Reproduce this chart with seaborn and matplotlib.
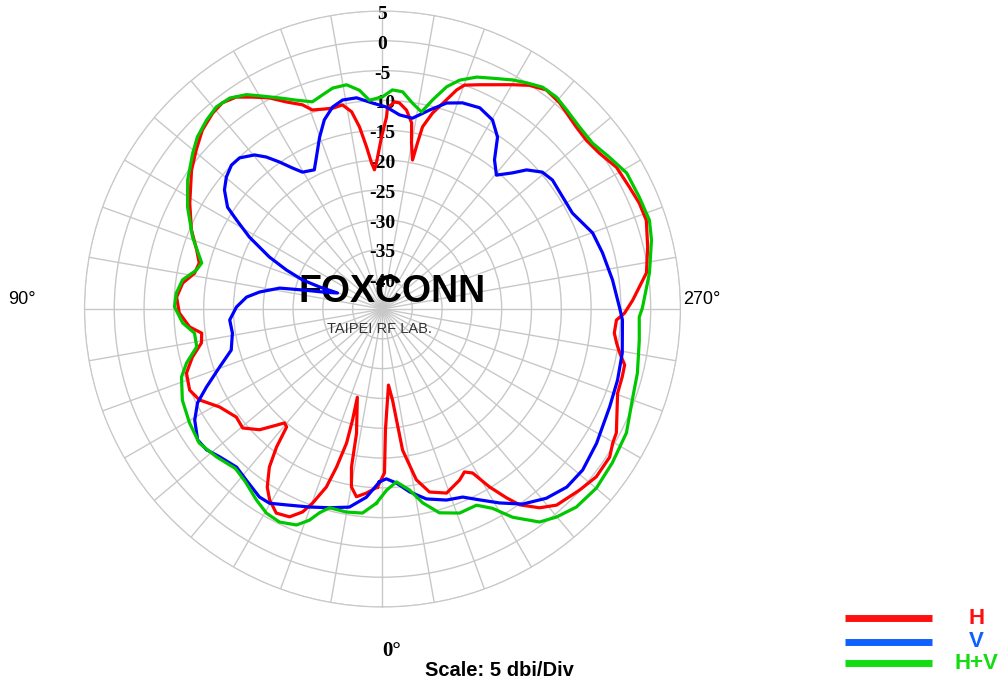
import numpy as np
import matplotlib
matplotlib.use('Agg')
import matplotlib.pyplot as plt
import seaborn as sns
from matplotlib.lines import Line2D

# 안테나 방사 패턴 (각도[deg], 이득[dBi])
h_deg = [1.6, 5.0, 7.9, 9.9, 11.1, 11.8, 15.9, 15.1, 15.0, 16.2, 17.5, 19.8, 21.5, 24.1, 27.5,
         30.6, 32.9, 35.6, 37.5, 39.1, 40.7, 42.4, 45.5, 49.6, 53.5, 59.0, 63.6, 67.2, 71.9,
         75.8, 79.4, 82.4, 84.7, 88.9, 93.3, 97.4, 100.8, 104.1, 107.6, 112.5, 118.8, 126.0,
         130.5, 134.8, 139.1, 142.2, 145.4, 148.5, 151.8, 155.1, 158.6, 160.6, 166.0, 168.9,
         171.1, 172.8, 174.4, 175.7, 176.7, 177.6, 179.7, 181.2, 181.4, 183.3, 184.7, 186.9,
         188.9, 189.9, 191.4, 191.9, 192.4, 194.3, 197.0, 198.7, 200.1, 203.4, 210.1, 213.3,
         216.8, 220.7, 226.8, 230.4, 234.3, 238.8, 243.7, 247.6, 251.4, 256.8, 262.2, 268.0,
         271.0, 272.7, 275.9, 278.3, 280.3, 283.0, 285.8, 289.7, 297.9, 300.2, 303.1, 308.1,
         312.6, 318.4, 321.7, 325.0, 326.7, 329.0, 331.2, 333.3, 335.8, 340.8, 345.6, 348.8,
         351.9, 353.7, 355.5, 358.6, 359.3]
h_db = [-15.1, -14.0, -13.2, -14.7, -18.0, -23.7, -29.6, -25.7, -21.7, -17.4, -13.7, -10.4, -8.4,
        -6.8, -6.4, -7.8, -9.4, -12.4, -15.8, -19.5, -19.8, -18.6, -16.1, -14.2, -14.5, -13.1,
        -10.7, -9.9, -10.4, -12.1, -14.1, -14.4, -12.5, -10.9, -10.4, -11.2, -12.9, -13.3, -12.3,
        -10.3, -8.1, -5.4, -3.9, -2.4, -1.5, -1.2, -1.8, -3.3, -4.8, -6.7, -8.2, -9.6, -10.3,
        -10.1, -11.5, -14.2, -17.7, -20.4, -21.6, -20.5, -16.1, -12.8, -11.3, -10.2, -10.3,
        -11.4, -13.4, -16.7, -19.5, -16.5, -13.7, -11.1, -8.3, -6.2, -5.0, -4.0, -1.5, -0.1,
        0.9, 0.6, -0.4, -0.6, -0.2, 0.9, 1.2, 1.6, 1.7, 0.7, -0.3, -3.0, -4.4, -5.7, -5.9,
        -5.3, -4.6, -3.3, -3.2, -3.1, -0.6, -0.3, 0.5, 0.6, -0.1, -1.0, -2.5, -4.9, -7.1,
        -10.2, -13.6, -14.4, -13.5, -12.3, -13.3, -15.8, -21.1, -29.6, -32.2, -24.7, -17.5]

v_deg = [1.0, 4.9, 9.5, 14.9, 20.2, 26.1, 30.2, 33.2, 38.5, 42.7, 47.8, 51.3, 54.7, 59.4, 63.1,
         66.1, 70.4, 74.8, 80.9, 85.9, 90.8, 95.0, 97.9, 101.5, 103.4, 105.8, 109.6, 109.3,
         110.0, 112.1, 114.7, 118.4, 121.4, 123.3, 127.0, 130.2, 133.6, 136.6, 140.3, 142.6,
         145.0, 147.4, 149.7, 153.9, 156.5, 159.9, 162.9, 166.1, 169.2, 173.0, 177.2, 181.1,
         185.0, 188.9, 193.3, 197.3, 201.2, 205.8, 210.2, 213.8, 216.9, 220.4, 223.7, 226.0,
         229.4, 232.8, 238.1, 243.2, 250.1, 255.7, 262.8, 269.8, 272.6, 280.4, 286.8, 293.3,
         302.1, 308.8, 314.0, 319.1, 324.3, 328.9, 333.1, 336.9, 341.5, 347.0, 351.6, 355.4,
         358.7]
v_db = [-16.0, -13.3, -11.3, -10.5, -9.6, -8.4, -7.3, -7.3, -8.3, -8.9, -8.1, -7.2, -7.0, -8.4,
        -10.2, -12.7, -16.0, -18.7, -19.5, -19.3, -20.5, -22.1, -24.2, -27.4, -31.2, -34.5,
        -37.0, -33.8, -30.7, -27.6, -24.1, -19.6, -16.3, -13.9, -11.8, -10.7, -10.0, -10.1,
        -11.4, -12.9, -14.9, -16.9, -18.4, -19.0, -17.2, -14.3, -11.8, -10.1, -9.3, -9.3,
        -10.4, -11.1, -12.3, -12.6, -10.7, -8.8, -7.9, -7.5, -8.3, -10.3, -13.7, -15.5, -13.4,
        -11.4, -9.7, -9.2, -9.4, -9.3, -7.5, -6.9, -6.1, -5.2, -4.7, -4.1, -3.8, -3.5, -2.6,
        -1.9, -2.0, -3.0, -4.7, -7.0, -9.1, -10.7, -11.2, -12.3, -14.0, -15.7, -16.5]

hv_deg = [1.8, 5.6, 10.1, 14.9, 17.2, 19.1, 21.7, 25.8, 29.6, 33.4, 38.5, 42.7, 48.3, 53.8, 59.4,
          65.5, 71.3, 74.6, 78.5, 82.7, 86.0, 90.6, 94.4, 98.3, 101.8, 104.3, 110.8, 117.6,
          123.5, 129.4, 132.9, 137.0, 140.6, 144.1, 147.6, 150.6, 154.0, 157.6, 161.3, 164.3,
          167.3, 170.9, 174.0, 176.4, 180.0, 182.6, 185.3, 188.3, 191.2, 193.5, 196.1, 198.6,
          202.1, 205.5, 209.6, 212.5, 215.8, 219.4, 222.8, 227.3, 231.7, 236.2, 240.9, 246.5,
          251.6, 255.6, 262.3, 269.8, 271.8, 276.9, 284.1, 290.0, 296.9, 303.8, 309.9, 315.6,
          320.1, 323.6, 328.0, 331.1, 334.4, 339.3, 344.4, 348.3, 351.5, 355.4, 358.7]
hv_db = [-12.4, -10.6, -10.4, -10.5, -9.2, -7.5, -6.0, -5.3, -5.6, -6.6, -8.0, -8.6, -7.7, -6.9,
         -7.4, -8.1, -9.4, -10.9, -13.2, -13.2, -11.4, -10.1, -10.3, -11.1, -13.1, -13.7, -10.9,
         -8.1, -5.8, -3.8, -2.6, -1.7, -1.1, -1.3, -2.4, -4.0, -5.6, -7.1, -8.3, -7.7, -7.0,
         -6.9, -8.1, -9.9, -9.4, -8.2, -8.4, -10.1, -11.3, -8.9, -6.2, -4.5, -3.0, -2.1, -0.8,
         0.0, 0.9, 1.0, 0.5, 0.0, -0.1, 0.8, 1.9, 2.0, 2.2, 1.6, 0.2, -1.4, -1.9, -1.6, -0.9,
         -0.4, 0.9, 1.4, 1.8, 1.5, 0.5, -0.6, -3.8, -6.8, -8.5, -8.4, -9.5, -11.8, -14.3,
         -15.9, -14.6]

series_names = ['H', 'V', 'H+V']
r_ticks = [5, 0, -5, -10, -15, -20, -25, -30, -35, -40]
r_min, r_max = -45, 5

plt.rcParams['font.family'] = ['Liberation Sans', 'DejaVu Sans']

fig = plt.figure(figsize=(10.08, 6.88), dpi=100)
ax = fig.add_axes([0.0838, 0.1177, 0.5913, 0.8663], projection='polar')
ax.set_theta_zero_location('S')
ax.set_theta_direction(-1)

# 패턴 그리기 (닫힌 곡선)
curves = [(h_deg, h_db, '#ff0000'), (v_deg, v_db, '#0000ff'), (hv_deg, hv_db, '#00c800')]
for th, db, col in curves:
    t = np.deg2rad(np.append(th, th[0] + 360))
    r = np.append(db, db[0])
    sns.lineplot(x=t, y=r, ax=ax, color=col, lw=2.3, sort=False, estimator=None,
                 legend=False, zorder=4)

ax.set_ylim(r_min, r_max)
ax.set_xticks(np.deg2rad(np.arange(0, 360, 10)))
ax.set_xticklabels([])
ax.set_yticks(r_ticks)
ax.set_yticklabels([])
ax.set_xlabel('')
ax.set_ylabel('')
ax.grid(color='#c8c8c8', lw=1)
ax.spines['polar'].set_color('#c8c8c8')
ax.set_axisbelow(True)

# 반경 눈금 라벨 (위쪽)
for v in r_ticks:
    ax.text(np.pi, v - 0.6, str(v), ha='center', va='center', fontsize=14,
            fontweight='bold', family='Liberation Serif', zorder=2)

# 워터마크
ax.text(0.3889, 0.5756, 'FOXCONN', transform=fig.transFigure, ha='center', va='center',
        fontsize=27, fontweight='bold', color='black', zorder=3)
ax.text(0.376, 0.5218, 'TAIPEI RF LAB.', transform=fig.transFigure, ha='center', va='center',
        fontsize=10.5, color='#333333', zorder=3)

# 각도 라벨
fig.text(0.0218, 0.564, '90°', ha='center', va='center', fontsize=13)
fig.text(0.6964, 0.564, '270°', ha='center', va='center', fontsize=13)
fig.text(0.389, 0.0538, '0°', ha='center', va='center', fontsize=15, fontweight='bold',
         family='Liberation Serif')
fig.text(0.495, 0.026, 'Scale: 5 dbi/Div', ha='center', va='center', fontsize=14.5,
         fontweight='bold')

# 범례 (오른쪽 아래)
leg_colors = ['#ff1010', '#1060ff', '#11dd11']
leg_y = [0.1017, 0.0669, 0.0363]
for name, col, y in zip(series_names, leg_colors, leg_y):
    fig.add_artist(Line2D([0.838, 0.925], [y, y], transform=fig.transFigure,
                          color=col, lw=5, solid_capstyle='butt'))
    fig.text(0.969, y, name, ha='center', va='center', fontsize=16, fontweight='bold',
             color=col)

fig.savefig('out.png', dpi=100, facecolor='white')
